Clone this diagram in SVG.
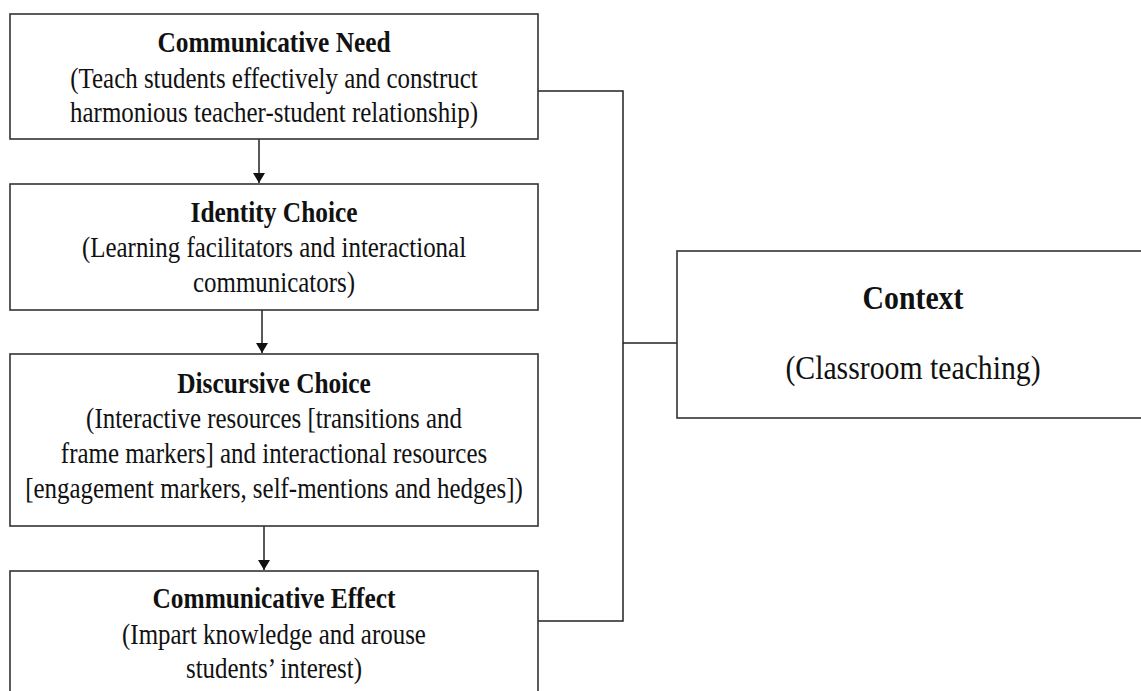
<svg xmlns="http://www.w3.org/2000/svg" width="1141" height="691" viewBox="0 0 1141 691">
<defs>
<style>
.box{fill:#fff;stroke:#333;stroke-width:1.6}
.ln{fill:none;stroke:#222;stroke-width:1.5}
text{font-family:"Liberation Serif","Times New Roman",serif;fill:#111;text-anchor:middle}
.t{font-size:29px;font-weight:bold}
.b{font-size:28.5px}
.ct{font-size:34px;font-weight:bold}
.cb{font-size:34px}
</style>
<marker id="arr" viewBox="0 0 10 12" refX="10" refY="6" markerWidth="10" markerHeight="12" markerUnits="userSpaceOnUse" orient="auto">
<path d="M0,0 L10,6 L0,12 Z" fill="#111"/>
</marker>
</defs>
<rect width="1141" height="691" fill="#fff"/>
<g id="connectors">
<line class="ln" x1="259" y1="139" x2="259" y2="183" marker-end="url(#arr)"/>
<line class="ln" x1="262" y1="310" x2="262" y2="353" marker-end="url(#arr)"/>
<line class="ln" x1="264" y1="526" x2="264" y2="570" marker-end="url(#arr)"/>
<polyline class="ln" points="538,91 623,91 623,621 538,621"/>
<line class="ln" x1="623" y1="343" x2="677" y2="343"/>
</g>
<g id="need">
<rect class="box" x="10" y="14" width="528" height="125"/>
<g transform="translate(274 0) scale(0.875 1)">
<text class="t" x="0" y="52">Communicative Need</text>
<text class="b" x="0" y="88">(Teach students effectively and construct</text>
<text class="b" x="0" y="122">harmonious teacher-student relationship)</text>
</g>
</g>
<g id="identity">
<rect class="box" x="10" y="184" width="528" height="126"/>
<g transform="translate(274 0) scale(0.875 1)">
<text class="t" x="0" y="222">Identity Choice</text>
<text class="b" x="0" y="257">(Learning facilitators and interactional</text>
<text class="b" x="0" y="292">communicators)</text>
</g>
</g>
<g id="discursive">
<rect class="box" x="10" y="354" width="528" height="172"/>
<g transform="translate(274 0) scale(0.875 1)">
<text class="t" x="0" y="393">Discursive Choice</text>
<text class="b" x="0" y="428">(Interactive resources [transitions and</text>
<text class="b" x="0" y="463">frame markers] and interactional resources</text>
<text class="b" x="0" y="498">[engagement markers, self-mentions and hedges])</text>
</g>
</g>
<g id="effect">
<rect class="box" x="10" y="571" width="528" height="140"/>
<g transform="translate(274 0) scale(0.875 1)">
<text class="t" x="0" y="608">Communicative Effect</text>
<text class="b" x="0" y="644">(Impart knowledge and arouse</text>
<text class="b" x="0" y="678">students’ interest)</text>
</g>
</g>
<g id="context">
<rect class="box" x="677" y="251" width="480" height="167"/>
<g transform="translate(913 0) scale(0.875 1)">
<text class="ct" x="0" y="309">Context</text>
<text class="cb" x="0" y="379">(Classroom teaching)</text>
</g>
</g>
</svg>
